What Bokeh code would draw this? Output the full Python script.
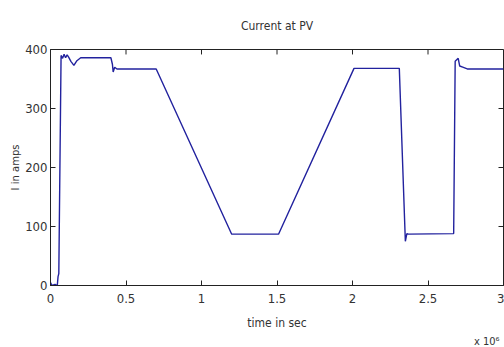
from bokeh.plotting import figure
from bokeh.models import FixedTicker, Range1d, Title
from bokeh.embed import file_html
from bokeh.resources import INLINE

# time (x 10^6) and current (A)
time = [0, 0.01, 0.03, 0.045, 0.05, 0.055, 0.07, 0.08, 0.09, 0.10, 0.11, 0.12,
        0.135, 0.155, 0.175, 0.20, 0.40, 0.41, 0.415, 0.425, 0.44, 0.70, 1.20,
        1.51, 2.01, 2.31, 2.35, 2.36, 2.37, 2.67, 2.68, 2.70, 2.71, 2.73, 2.76, 3.0]
current = [5, 0, 2, 0, 15, 20, 390, 385, 392, 386, 391, 387,
           380, 373, 381, 386, 386, 375, 362, 370, 367, 367, 87,
           87, 368, 368, 75, 88, 87, 88, 380, 385, 372, 370, 367, 367]

x_ticks = [0, 0.5, 1, 1.5, 2, 2.5, 3]
x_tick_labels = {0: "0", 0.5: "0.5", 1: "1", 1.5: "1.5", 2: "2", 2.5: "2.5", 3: "3"}
y_ticks = [0, 100, 200, 300, 400]
x_min, x_max = 0, 3
y_min, y_max = 0, 400

NARROW = "DejaVu Sans Condensed"
INK = "#333333"
W, H = 504, 347
BL, BR, BT, BB = 50, 1, 48, 61
TICK_PX = 5

p = figure(width=W, height=H, output_backend="svg", toolbar_location=None,
           x_range=Range1d(x_min, x_max), y_range=Range1d(y_min, y_max),
           min_border_left=BL, min_border_right=BR, min_border_top=BT, min_border_bottom=BB)
p.background_fill_color = "white"
p.border_fill_color = "white"
p.grid.visible = False
p.outline_line_color = "#222222"

p.title.text = "Current at PV"
p.title.align = "center"
p.title.text_font = NARROW
p.title.text_font_size = "12px"
p.title.text_font_style = "normal"
p.title.text_color = INK
p.title.standoff = 33

p.line(time, current, line_color="#22229e", line_width=1.4)

# inward ticks on the top and right edges (MATLAB box style)
dx = TICK_PX * (x_max - x_min) / (W - BL - BR)
dy = TICK_PX * (y_max - y_min) / (H - BT - BB)
p.segment(x0=[x_max] * len(y_ticks), y0=y_ticks, x1=[x_max - dx] * len(y_ticks), y1=y_ticks,
          line_color="#222222", line_width=1)
p.segment(x0=x_ticks, y0=[y_max] * len(x_ticks), x1=x_ticks, y1=[y_max - dy] * len(x_ticks),
          line_color="#222222", line_width=1)

for ax in (p.xaxis[0], p.yaxis[0]):
    ax.major_tick_in = TICK_PX
    ax.major_tick_out = 0
    ax.minor_tick_in = 0
    ax.minor_tick_out = 0
    ax.axis_line_color = "#222222"
    ax.major_tick_line_color = "#222222"
    ax.major_label_text_font = NARROW
    ax.major_label_text_font_size = "13px"
    ax.major_label_text_color = INK
    ax.axis_label_text_font_style = "normal"
    ax.axis_label_text_color = INK

p.xaxis.ticker = FixedTicker(ticks=x_ticks)
p.xaxis.major_label_overrides = x_tick_labels
p.yaxis.ticker = FixedTicker(ticks=y_ticks)
p.xaxis.axis_label = "time in sec"
p.xaxis.axis_label_text_font = NARROW
p.xaxis.axis_label_text_font_size = "12px"
p.xaxis.major_label_standoff = 8
p.xaxis.axis_label_standoff = 10
p.yaxis.axis_label = "I in amps"
p.yaxis.axis_label_text_font = "DejaVu Sans"
p.yaxis.axis_label_text_font_size = "10px"
p.yaxis.major_label_standoff = 3
p.yaxis.axis_label_standoff = 1

p.add_layout(Title(text="x 10⁶", align="right", text_font=NARROW, text_font_size="11px",
                   text_font_style="normal", text_color=INK, standoff=0, offset=4), "below")

open("out.html", "w").write(file_html(p, INLINE))
